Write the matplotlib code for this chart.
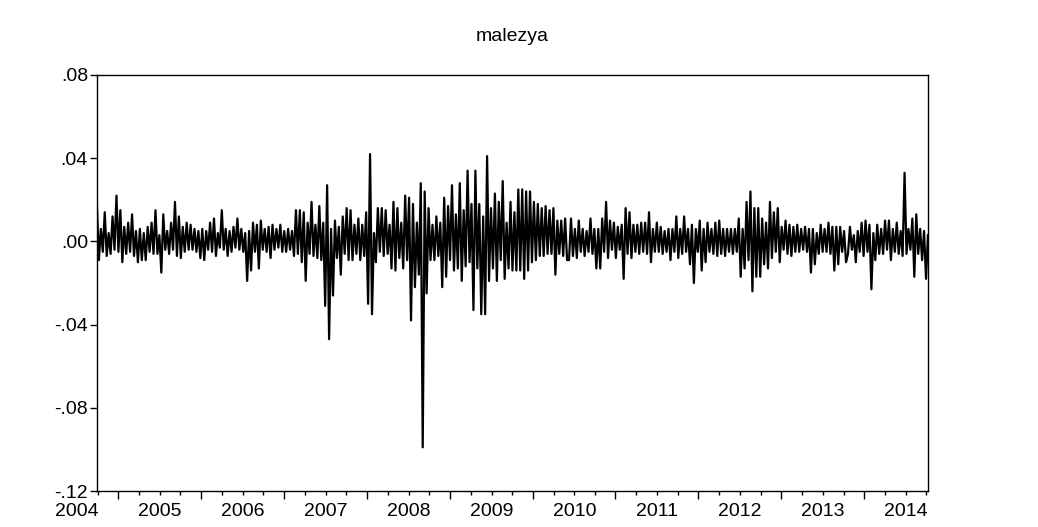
import numpy as np
import pandas as pd
import matplotlib
matplotlib.use("Agg")
import matplotlib.pyplot as plt
import matplotlib.dates as mdates
import matplotlib.transforms as mtransforms

plt.rcParams["font.family"] = ["Liberation Sans", "DejaVu Sans"]

# daily returns of the Malaysian index (in percent), read in blocks of roughly one year
ret_2004 = [1.7, -0.9, 0.6, -0.5, 1.4, -0.7, 0.4, -0.6, 1.2, -0.4, 2.2, -0.5, 1.5, -1.0, 0.7, -0.6,
            0.9, -0.5, 1.3, -0.7, 0.5, -1.0, 0.6, -0.9, 0.4, -0.9, 0.7, -0.5, 0.9, -0.6,
            1.5, -0.6, 0.3, -1.5, 1.3, -0.4, 0.5, -0.6, 0.9, -0.4, 1.9, -0.7, 1.2, -0.8, 0.7, -0.5,
            0.9, -0.4]
ret_2005 = [0.8, -0.4, 0.6, -0.5, 0.5, -0.8, 0.6, -0.9, 0.5, -0.4, 0.9, -0.5, 1.1, -0.7,
            0.4, -0.3, 1.5, -0.4, 0.6, -0.7, 0.5, -0.5, 0.7, -0.3, 1.1, -0.4, 0.6, -0.5, 0.4, -1.9,
            0.5, -1.4, 0.9, -0.5, 0.8, -1.3, 1.0, -0.4, 0.6, -0.5, 0.7, -0.8, 0.8, -0.4, 0.6, -0.3,
            0.8, -0.5]
ret_2006 = [0.5, -0.5, 0.6, -0.4, 0.5, -0.7, 1.5, -0.6, 1.5, -1.0, 1.4, -1.9, 0.9, -0.6,
            1.9, -0.7, 0.8, -0.8, 1.7, -0.9, 0.9, -3.1, 2.7, -4.7, 0.6, -2.6, 1.0, -0.8, 0.7, -1.6,
            1.2, -0.6, 1.6, -0.9, 1.5, -0.9, 0.8, -0.6, 1.1, -0.9, 0.8, -0.7, 1.4, -3.0, 4.2, -3.5,
            0.4, -1.0, 1.6, -0.5]
ret_2007 = [1.6, -0.7, 1.5, -0.6, 0.8, -1.3, 1.9, -1.4, 1.6, -0.8, 0.9, -1.3, 2.2, -0.9, 2.1, -3.8,
            1.8, -2.2, 0.9, -1.6, 2.8, -9.9, 2.4, -2.5, 1.6, -0.9, 0.8, -0.9, 1.2, -0.7, 0.9, -2.2,
            2.1, -1.7, 1.7, -0.9, 2.7, -1.4, 1.3, -1.3, 2.8, -1.9, 1.5, -1.2, 3.4, -1.0, 1.8, -3.3]
ret_2008 = [3.4, -1.3, 1.8, -3.5, 1.2, -3.5, 4.1, -1.9, 1.6, -1.3, 2.3, -1.9, 1.9, -0.9, 2.9, -1.8,
            0.9, -1.3, 1.9, -1.4, 1.4, -1.4, 2.5, -1.4, 2.5, -1.8, 2.4, -1.4, 2.4, -1.0, 1.9, -0.9,
            1.8, -0.7, 1.6, -0.7, 1.7, -0.6, 1.5, -0.6, 1.6, -1.6, 1.0, -0.6, 1.0, -0.7, 1.1, -0.9]
ret_2009 = [-0.9, 1.1, -0.7, 0.6, -0.8, 1.0, -0.5, 0.6, -0.7, 0.5, -0.5, 1.1, -0.6, 0.6, -1.3, 0.6,
            -1.3, 1.1, -0.5, 1.9, -0.8, 1.0, -0.4, 0.9, -0.8, 0.7, -0.4, 0.8, -1.8, 1.6, -0.6, 1.4,
            -0.8, 0.8, -0.5, 0.8, -0.6, 0.9, -0.5, 0.9, -0.6, 1.4, -1.0, 0.6, -0.5, 0.9, -0.5]
ret_2010 = [0.7, -0.6, 0.5, -0.5, 0.6, -0.9, 0.6, -0.5, 1.2, -0.8, 0.6, -0.6, 1.2, -0.5, 0.6, -1.1,
            0.8, -2.0, 0.6, -0.5, 1.0, -1.4, 0.6, -1.0, 0.9, -0.5, 0.6, -0.6, 0.9, -0.7, 1.0, -0.6,
            0.6, -0.7, 0.6, -0.5, 0.6, -0.6, 0.6, -0.5, 1.1, -1.7, 0.6, -1.3, 1.9, -0.9, 2.4, -2.4,
            1.6, -1.7]
ret_2011 = [1.6, -1.7, 1.1, -1.1, 0.9, -1.3, 1.9, -0.8, 1.4, -0.5, 1.6, -1.0, 0.7, -0.4, 1.0, -0.6,
            0.8, -0.7, 0.7, -0.5, 0.8, -0.5, 0.6, -0.4, 0.7, -0.5, 0.6, -1.5, 0.6, -1.1, 0.4, -0.6,
            0.8, -0.5, 0.6, -0.5, 0.9, -0.6, 0.7, -1.4, 0.7, -1.1, 0.7, -0.5, 0.5, -1.0]
ret_2013 = [-0.6, 0.7, -0.4, 0.3, -1.0, 0.5, -0.5, 0.9, -0.7, 1.0, -0.5, 0.8, -2.3, 0.4, -0.9, 0.8,
            -0.6, 0.6, -0.6, 1.0, -0.4, 1.0, -0.9, 0.6, -0.5, 0.9, -0.6, 0.5, -0.7, 3.3, -0.6, 0.6,
            -0.4, 1.1, -1.7, 1.3, -0.6, 0.6, -0.9, 0.5, -1.8, 0.3]

years = list(range(2004, 2015))
y_ticks = [-0.12, -0.08, -0.04, 0.00, 0.04, 0.08]
y_labels = ["-.12", "-.08", "-.04", ".00", ".04", ".08"]

ret = np.concatenate([ret_2004, ret_2005, ret_2006, ret_2007, ret_2008,
                      ret_2009, ret_2010, ret_2011, ret_2013]) / 100.0
dates = pd.date_range("2004-03-29", "2014-04-08", periods=len(ret))

fig = plt.figure(figsize=(10.38, 5.27), dpi=100)
ax = fig.add_axes([0.0934, 0.0683, 0.8006, 0.7894])

ax.plot(dates, ret, color="black", lw=1.6)

ax.set_xlim(dates[0], dates[-1])
ax.set_ylim(-0.12, 0.08)
ax.set_yticks(y_ticks)
ax.set_yticklabels(y_labels)

# long ticks mid-year, short ticks on the other quarters, year labels at Jan 1
ax.xaxis.set_major_locator(mdates.MonthLocator(bymonth=[7]))
ax.xaxis.set_minor_locator(mdates.MonthLocator(bymonth=[1, 4, 10]))
ax.xaxis.set_major_formatter(plt.NullFormatter())
ax.tick_params(axis="x", which="major", length=5.5, width=1, direction="out")
ax.tick_params(axis="x", which="minor", length=3, width=1, direction="out")
ax.tick_params(axis="y", length=5, width=1, direction="out", labelsize=14, pad=1.5)

trans = mtransforms.blended_transform_factory(ax.transData, ax.transAxes)
for yr in years:
    x = mdates.date2num(pd.Timestamp(f"{yr}-01-01"))
    ax.text(x, -0.029, str(yr), transform=trans, ha="center", va="top",
            fontsize=14, clip_on=False)

for s in ax.spines.values():
    s.set_linewidth(1.0)

fig.text(0.4937, 0.93, "malezya", ha="center", va="center", fontsize=14)

fig.savefig("out.png", dpi=100)
